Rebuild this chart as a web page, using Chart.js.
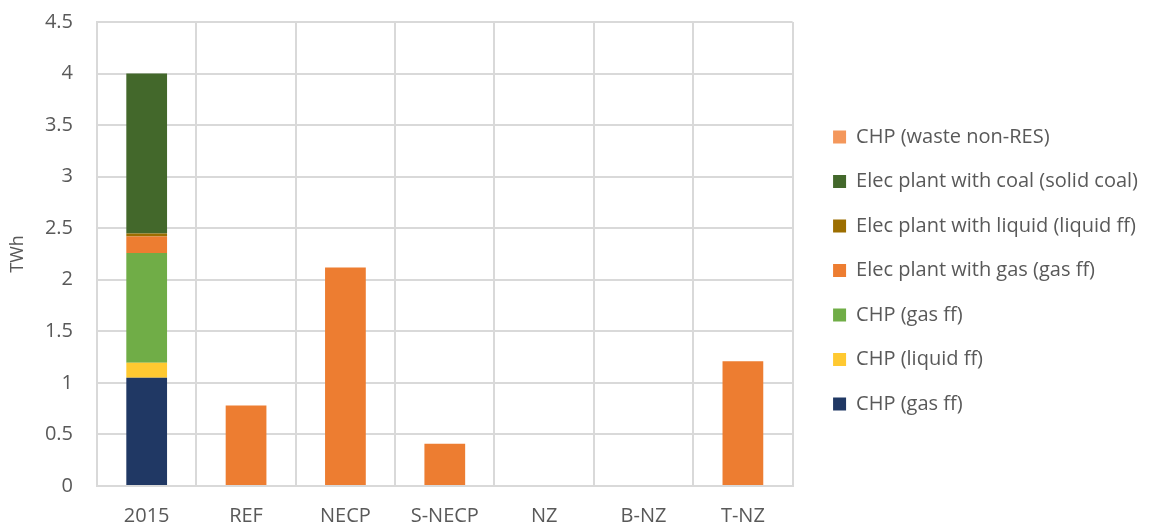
<!DOCTYPE html>
<html>
<head>
<meta charset="utf-8">
<script src="https://cdn.jsdelivr.net/npm/chart.js@4.4.1/dist/chart.umd.min.js"></script>
<style>
  html, body { margin: 0; padding: 0; background: #fff; }
  #wrap { width: 1153px; height: 527px; position: relative; }
</style>
</head>
<body>
<div id="wrap"><canvas id="chart"></canvas></div>
<script>
// Scenarios on the x axis
const scenarios = ['2015', 'REF', 'NECP', 'S-NECP', 'NZ', 'B-NZ', 'T-NZ'];

// Generation per technology (TWh), stacked bottom to top
const chpGasBottom   = [1.05, 0, 0, 0, 0, 0, 0];
const chpLiquid      = [0.145, 0, 0, 0, 0, 0, 0];
const chpGasTop      = [1.065, 0, 0, 0, 0, 0, 0];
const elecGas        = [0.16, 0.78, 2.12, 0.41, 0, 0, 1.21];
const elecLiquid     = [0.03, 0, 0, 0, 0, 0, 0];
const elecCoal       = [1.55, 0, 0, 0, 0, 0, 0];
const chpWaste       = [0, 0, 0, 0, 0, 0, 0];

const yTicks = [0, 0.5, 1, 1.5, 2, 2.5, 3, 3.5, 4, 4.5];

const textColor = '#595959';
const gridColor = '#D9D9D9';
const fontFamily = 'Open Sans';

function series(label, data, color) {
    return {
        label: label,
        data: data,
        backgroundColor: color,
        borderWidth: 0,
        barPercentage: 0.41,
        categoryPercentage: 1.0
    };
}

const datasets = [
    series('CHP (gas ff)', chpGasBottom, '#203864'),
    series('CHP (liquid ff)', chpLiquid, '#FFC931'),
    series('CHP (gas ff)', chpGasTop, '#70AD47'),
    series('Elec plant with gas (gas ff)', elecGas, '#ED7D31'),
    series('Elec plant with liquid (liquid ff)', elecLiquid, '#9C6E00'),
    series('Elec plant with coal (solid coal)', elecCoal, '#43682B'),
    series('CHP (waste non-RES)', chpWaste, '#F4975B')
];

// Leave a wider gap between the plot area and the legend
const legendGap = {
    id: 'legendGap',
    afterLayout(chart) {
        if (chart.legend) {
            chart.legend.left += 16;
            chart.legend.right += 16;
            chart.legend.top -= 4;
            chart.legend.bottom -= 4;
        }
    }
};

const ctx = document.getElementById('chart').getContext('2d');
new Chart(ctx, {
    type: 'bar',
    data: { labels: scenarios, datasets: datasets },
    plugins: [legendGap],
    options: {
        responsive: true,
        maintainAspectRatio: false,
        animation: false,
        layout: { padding: { left: 0, top: 22, right: 21, bottom: 0 } },
        plugins: {
            tooltip: { enabled: false },
            legend: {
                position: 'right',
                reverse: true,
                align: 'center',
                maxWidth: 360,
                labels: {
                    boxWidth: 13,
                    boxHeight: 13,
                    padding: 24.5,
                    color: textColor,
                    font: { family: fontFamily, size: 20 }
                }
            }
        },
        scales: {
            x: {
                stacked: true,
                offset: true,
                afterFit: (axis) => {
                    axis.height = 41;
                },
                grid: { offset: true, color: gridColor, lineWidth: 2, drawTicks: false },
                border: { color: gridColor, width: 2 },
                ticks: {
                    color: textColor,
                    padding: 18,
                    font: { family: fontFamily, size: 20 }
                }
            },
            y: {
                stacked: true,
                min: 0,
                max: 4.5,
                afterBuildTicks: (axis) => {
                    axis.ticks = yTicks.map(v => ({ value: v }));
                },
                afterFit: (axis) => {
                    axis.paddingTop = 0;
                    axis.paddingBottom = 0;
                    axis.width = 97;
                },
                grid: { color: gridColor, lineWidth: 2, drawTicks: false },
                border: { color: gridColor, width: 2 },
                ticks: {
                    color: textColor,
                    padding: 24,
                    font: { family: fontFamily, size: 20 },
                    callback: (v) => String(v)
                },
                title: {
                    display: true,
                    text: 'TWh',
                    color: textColor,
                    font: { family: fontFamily, size: 18 },
                    padding: { top: 7, bottom: 0 }
                }
            }
        }
    }
});
</script>
</body>
</html>
